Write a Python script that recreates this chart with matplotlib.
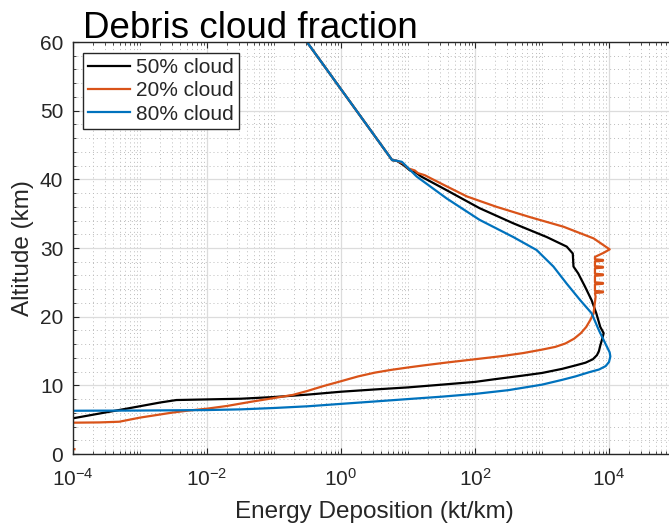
import math
import matplotlib
matplotlib.use("Agg")
import matplotlib.pyplot as plt
from matplotlib.ticker import FixedLocator, LogLocator, MultipleLocator, FuncFormatter, NullFormatter

plt.rcParams['font.family'] = ['Liberation Sans', 'DejaVu Sans']
plt.rcParams['mathtext.fontset'] = 'custom'
plt.rcParams['mathtext.rm'] = 'Liberation Sans'
plt.rcParams['mathtext.it'] = 'Liberation Sans:italic'
plt.rcParams['mathtext.bf'] = 'Liberation Sans:bold'

# Energy deposition profiles (kt/km) versus altitude (km)
alt_50 = [60, 42.8, 42.7, 42.1, 41.3, 41.1, 40.4, 38.4, 35.8, 33.6, 31.6, 30.2,
          29.2, 27.3, 26.3, 24.4, 22.4, 20.5, 18.5, 17.6, 16.8, 15.8, 15.0, 14.4,
          13.8, 13.3, 12.9, 12.4, 11.8, 11.4, 10.9, 10.5, 10.1, 9.7, 9.4, 9.07,
          8.65, 8.3, 8.05, 7.95, 7.86, 7.5, 6.6, 5.2, 4.6]
energy_50 = [0.31, 5.8, 6.8, 8.5, 10.7, 12.6, 15.8, 38, 117, 372, 1175, 2340,
             2880, 2950, 3470, 4370, 5500, 6460, 7410, 8320, 7940, 7410, 7080, 6610,
             5750, 4470, 3160, 2000, 1000, 500, 200, 100, 32, 10, 3.2, 1.0,
             0.32, 0.10, 0.032, 0.010, 3.5e-3, 2.0e-3, 6.3e-4, 1.0e-4, 3.2e-5]

alt_20 = [60, 42.8, 42.7, 42.3, 41.6, 41.3, 40.9, 40.6, 40.1, 39.2, 37.5, 36.0,
          34.5, 33.1, 31.4, 29.8, 29.3, 28.7,
          28.35, 28.26, 28.14, 28.05,
          27.35, 27.26, 27.14, 27.05,
          26.25, 26.16, 26.04, 25.95,
          25.0, 24.91, 24.79, 24.7,
          23.75, 23.66, 23.54, 23.45,
          22.9, 20.5, 19.5, 18.5, 17.6, 16.8, 16.1, 15.6, 15.2, 14.7, 14.25,
          13.8, 13.35, 12.9, 12.6, 12.25, 11.85, 11.3, 10.6, 9.9, 9.2, 8.6,
          8.15, 7.6, 7.0, 6.6, 6.3, 6.0, 5.3, 4.7, 4.6, 4.56, 4.5, 0.9, 0.7]
energy_20 = [0.31, 5.8, 6.8, 8.5, 10, 12.6, 14.1, 17.8, 22.4, 34, 76, 209,
             660, 2090, 5890, 10230, 8320, 6170,
             6170, 8130, 8130, 6170,
             6170, 8130, 8130, 6170,
             6170, 8130, 8130, 6170,
             6170, 8130, 8130, 6170,
             6170, 8130, 8130, 6170,
             6310, 5890, 5250, 4570, 3800, 3020, 2240, 1580, 1000, 525, 250,
             100, 40, 17, 10, 5.6, 3.2, 1.8, 1.0, 0.55, 0.32, 0.19,
             0.10, 0.045, 0.020, 0.010, 5.0e-3, 2.9e-3, 1.0e-3, 4.9e-4, 2.5e-4,
             1.0e-4, 2.5e-5, 2.5e-5, 1.05e-4]

alt_80 = [60, 42.8, 42.7, 42.55, 40.4, 37.2, 34.1, 31.6, 29.7, 27.3, 24.8, 22.4,
          20.5, 18.0, 15.6, 14.8, 14.2, 13.4, 12.8, 12.3, 11.9, 11.3, 10.8, 10.1,
          9.3, 8.75, 8.35, 8.0, 7.65, 7.3, 6.95, 6.7, 6.5, 6.4, 6.33, 6.3, 6.3]
energy_80 = [0.31, 5.8, 6.8, 8.1, 13.5, 38, 117, 372, 832, 1480, 2340, 3720,
             5500, 7080, 9330, 10230, 10470, 10000, 8910, 7080, 5010, 3160, 2000, 1000,
             316, 100, 32, 10, 3.2, 1.0, 0.32, 0.10, 0.032, 0.010, 1.0e-3, 1.0e-4, 3.2e-5]

labels = ['50% cloud', '20% cloud', '80% cloud']
colors = ['#000000', '#D95319', '#0072BD']
x_major = [1e-4, 1e-2, 1e0, 1e2, 1e4]

W, H = 669, 527
fig = plt.figure(figsize=(W / 100, H / 100), dpi=100)
ax = fig.add_axes([73 / W, (H - 454) / H, (676 - 73) / W, (454 - 42) / H])

for e, a, lab, c in zip([energy_50, energy_20, energy_80],
                        [alt_50, alt_20, alt_80], labels, colors):
    ax.plot(e, a, color=c, lw=1.6, label=lab, solid_joinstyle='round')

ax.set_xscale('log')
ax.set_xlim(1e-4, 1e5)
ax.set_ylim(0, 60)

ax.xaxis.set_major_locator(FixedLocator(x_major))
ax.xaxis.set_major_formatter(FuncFormatter(lambda v, p: r'$10^{%d}$' % round(math.log10(v))))
ax.xaxis.set_minor_locator(LogLocator(base=10, subs=range(1, 10), numticks=100))
ax.xaxis.set_minor_formatter(NullFormatter())
ax.yaxis.set_major_locator(MultipleLocator(10))
ax.yaxis.set_minor_locator(MultipleLocator(2))

ax.grid(which='major', color='#dcdcdc', lw=0.9, ls='-')
ax.grid(which='minor', color='#bcbcbc', lw=0.7, ls=(0, (1, 3)))
ax.set_axisbelow(True)

axis_col = '#262626'
for s in ax.spines.values():
    s.set_color(axis_col)
    s.set_linewidth(1.0)
ax.tick_params(which='both', direction='in', top=True, right=True,
               colors=axis_col, labelcolor=axis_col)
ax.tick_params(which='major', length=4, width=0.8, labelsize=15)
ax.tick_params(which='minor', length=2, width=0.6)
ax.tick_params(axis='y', pad=7)
ax.tick_params(axis='x', pad=10)

ax.set_xlabel('Energy Deposition (kt/km)', fontsize=17.5, color=axis_col, labelpad=8)
ax.set_ylabel('Altitude (km)', fontsize=17.5, color=axis_col, labelpad=4)

fig.text(83 / W, (H - 38) / H, 'Debris cloud fraction', fontsize=26.5,
         color='black', ha='left', va='baseline')

leg = ax.legend(loc='upper left', bbox_to_anchor=((83 - 73) / (676 - 73), 1 - (53 - 42) / (454 - 42)),
                borderaxespad=0, fontsize=15, frameon=True, fancybox=False,
                edgecolor=axis_col, framealpha=1, handlelength=2.0,
                handletextpad=0.3, labelspacing=0.2, borderpad=0.25)
leg.get_frame().set_linewidth(1.0)
for t in leg.get_texts():
    t.set_color(axis_col)

fig.savefig('out.png', dpi=100)
